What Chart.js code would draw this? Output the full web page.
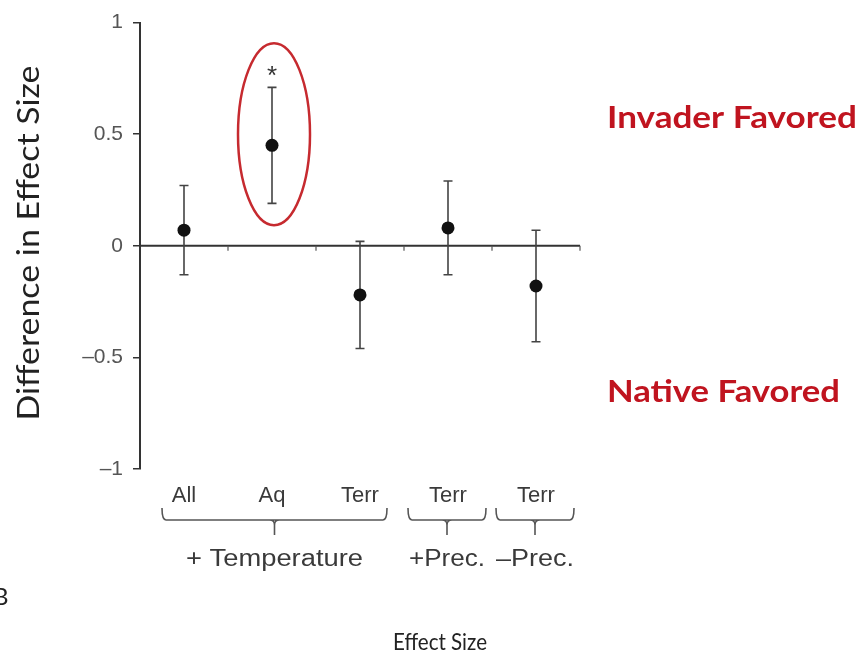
<!DOCTYPE html>
<html>
<head>
<meta charset="utf-8">
<script src="https://cdn.jsdelivr.net/npm/chart.js@4"></script>
<style>
  html, body { margin: 0; padding: 0; background: #fff; }
  #wrap { width: 861px; height: 659px; }
</style>
</head>
<body>
<div id="wrap"><canvas id="chart" width="861" height="659"></canvas></div>
<script>
// Data
const categories = ["All", "Aq", "Terr", "Terr", "Terr"];
const means = [0.07, 0.45, -0.22, 0.08, -0.18];
const lower = [-0.13, 0.19, -0.46, -0.13, -0.43];
const upper = [0.27, 0.71, 0.02, 0.29, 0.07];
const yTicks = [-1, -0.5, 0, 0.5, 1];
const groups = [
  { label: "+ Temperature", from: 0, to: 2 },
  { label: "+Prec.", from: 3, to: 3 },
  { label: "\u2013Prec.", from: 4, to: 4 }
];
const significant = [1];

// draw text squeezed/stretched to a given width
function fitText(ctx, txt, x, y, font, color, width, align) {
  ctx.save();
  ctx.font = font;
  ctx.fillStyle = color;
  ctx.textBaseline = "middle";
  const w = ctx.measureText(txt).width;
  const sx = width ? width / w : 1;
  let left = x;
  if (align === "center") left = x - (w * sx) / 2;
  ctx.translate(left, y);
  ctx.scale(sx, 1);
  ctx.textAlign = "left";
  ctx.fillText(txt, 0, 0);
  ctx.restore();
}

const decor = {
  id: "decor",
  beforeDatasetsDraw(chart) {
    const ctx = chart.ctx;
    const x = chart.scales.x, y = chart.scales.y;
    const y0 = y.getPixelForValue(0);

    // zero line with small ticks between categories
    ctx.save();
    ctx.strokeStyle = "#333";
    ctx.lineWidth = 2;
    ctx.beginPath();
    ctx.moveTo(x.left, y0);
    ctx.lineTo(x.right, y0);
    ctx.stroke();
    ctx.lineWidth = 1.2;
    ctx.strokeStyle = "#555";
    for (let i = 0; i < categories.length; i++) {
      const bx = i < categories.length - 1
        ? (x.getPixelForValue(i) + x.getPixelForValue(i + 1)) / 2
        : x.right;
      ctx.beginPath();
      ctx.moveTo(bx, y0);
      ctx.lineTo(bx, y0 + 5);
      ctx.stroke();
    }

    // error bars
    ctx.strokeStyle = "#444";
    ctx.lineWidth = 1.6;
    means.forEach((m, i) => {
      const px = x.getPixelForValue(i);
      const top = y.getPixelForValue(upper[i]);
      const bot = y.getPixelForValue(lower[i]);
      ctx.beginPath();
      ctx.moveTo(px, top); ctx.lineTo(px, bot);
      ctx.moveTo(px - 4.5, top); ctx.lineTo(px + 4.5, top);
      ctx.moveTo(px - 4.5, bot); ctx.lineTo(px + 4.5, bot);
      ctx.stroke();
    });
    ctx.restore();
  },
  afterDraw(chart) {
    const ctx = chart.ctx;
    const x = chart.scales.x, y = chart.scales.y;

    // significance marker and red ellipse
    significant.forEach(i => {
      const px = x.getPixelForValue(i);
      fitText(ctx, "*", px, y.getPixelForValue(upper[i]) - 10, "26px 'Liberation Sans'", "#333", 0, "center");
      ctx.save();
      ctx.strokeStyle = "#c62a2f";
      ctx.lineWidth = 2.5;
      ctx.beginPath();
      ctx.ellipse(px + 2, y.getPixelForValue(0.5), 36, 91, 0, 0, Math.PI * 2);
      ctx.stroke();
      ctx.restore();
    });

    // group braces and labels
    const labelWidths = [177, 76, 78];
    ctx.save();
    ctx.strokeStyle = "#555";
    ctx.lineWidth = 1.6;
    groups.forEach((g, k) => {
      const pad = g.from === g.to ? 40 : 24;
      const l = x.getPixelForValue(g.from) - pad + (g.from === g.to ? 0 : 2);
      const r = x.getPixelForValue(g.to) + pad + (g.from === g.to ? -2 : 3);
      const mid = (l + r) / 2;
      const t = 508, b = 520;
      ctx.beginPath();
      ctx.moveTo(l, t);
      ctx.quadraticCurveTo(l, b, l + 4, b);
      ctx.lineTo(r - 4, b);
      ctx.quadraticCurveTo(r, b, r, t);
      ctx.moveTo(mid - 5, b);
      ctx.quadraticCurveTo(mid, b, mid, b + 5);
      ctx.lineTo(mid, 535);
      ctx.moveTo(mid + 5, b);
      ctx.quadraticCurveTo(mid, b, mid, b + 5);
      ctx.stroke();
      fitText(ctx, g.label, mid, 560, "23px 'Liberation Sans'", "#3a3a3a",
        labelWidths[k], "center");
    });
    ctx.restore();

    // side notes and titles
    const red = "#c0141f";
    fitText(ctx, "Invader Favored", 607, 118, "bold 30px Lato", red, 250, "left");
    fitText(ctx, "Native Favored", 607, 392, "bold 30px Lato", red, 233, "left");
    fitText(ctx, "Effect Size", 440, 642, "24px Lato", "#222", 94, "center");
    fitText(ctx, "B", -7, 597, "24px Lato", "#222", 0, "left");

    ctx.save();
    ctx.translate(29, 243);
    ctx.rotate(-Math.PI / 2);
    fitText(ctx, "Difference in Effect Size", 0, 0, "30px Lato", "#222", 355, "center");
    ctx.restore();
  }
};

new Chart(document.getElementById("chart"), {
  type: "line",
  data: {
    labels: categories,
    datasets: [{
      data: means,
      showLine: false,
      pointRadius: 6.5,
      pointHoverRadius: 6.5,
      pointBackgroundColor: "#111",
      pointBorderColor: "#111",
      pointBorderWidth: 0
    }]
  },
  options: {
    responsive: false,
    animation: false,
    events: [],
    layout: { padding: { left: 0, right: 281, top: 19, bottom: 0 } },
    plugins: { legend: { display: false }, tooltip: { enabled: false } },
    scales: {
      x: {
        type: "category",
        offset: true,
        afterFit: s => { s.height = 190; },
        grid: { display: false, drawTicks: false },
        border: { display: false },
        ticks: {
          padding: 14,
          color: "#3a3a3a",
          font: { family: "'Liberation Sans'", size: 22 }
        }
      },
      y: {
        min: -1,
        max: 1,
        afterFit: s => { s.width = 140; },
        afterBuildTicks: s => { s.ticks = yTicks.map(v => ({ value: v })); },
        grid: { drawOnChartArea: false, drawTicks: true, tickLength: 7, color: "#333", lineWidth: 1.5 },
        border: { display: true, color: "#333", width: 2 },
        ticks: {
          padding: 10,
          color: "#555",
          font: { family: "'Liberation Sans'", size: 21 },
          callback: v => v < 0 ? "\u2013" + Math.abs(v) : String(v)
        }
      }
    }
  },
  plugins: [decor]
});
</script>
</body>
</html>
